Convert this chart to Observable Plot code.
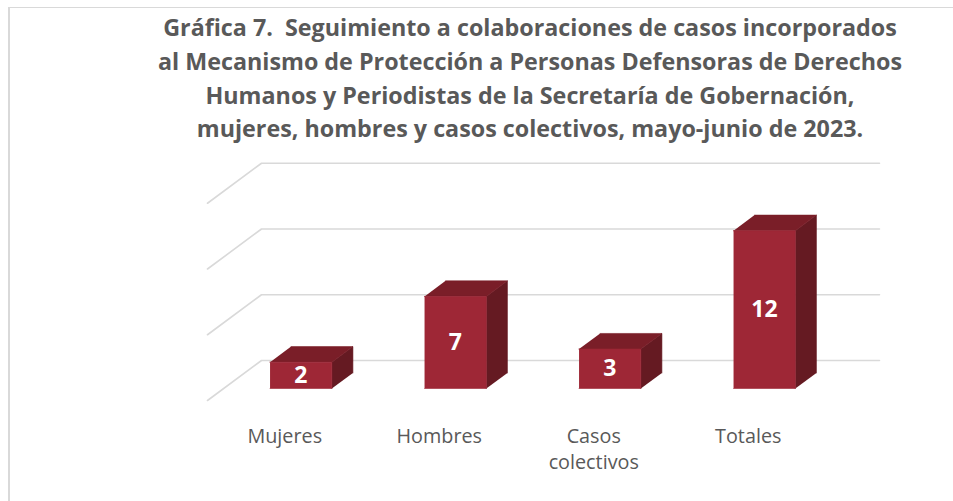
<!DOCTYPE html>
<html>
<head>
<meta charset="utf-8">
<script src="https://cdn.jsdelivr.net/npm/d3@7"></script>
<script src="https://cdn.jsdelivr.net/npm/@observablehq/plot@0.6"></script>
<style>
  html, body { margin: 0; padding: 0; background: #fff; }
  #wrap { position: relative; width: 953px; height: 501px; overflow: hidden; }
  #frame { position: absolute; left: 8px; top: 7px; right: -10px; bottom: -10px;
           border-left: 2px solid #d9d9d9; border-top: 1.5px solid #d9d9d9; pointer-events: none; }
  #title { box-sizing: border-box; height: 148px; padding: 11px 0 0 107px; width: 953px;
           font-family: "Open Sans", sans-serif; font-weight: 700; font-size: 23.3px;
           line-height: 33.8px; color: #595959; text-align: center; white-space: nowrap; }
  svg { display: block; }
</style>
</head>
<body>
<div id="wrap">
  <div id="frame"></div>
  <div id="title"></div>
  <div id="chart"></div>
</div>
<script>
// ---- data ----
const titleLines = [
  "Gráfica 7.\u00a0 Seguimiento a colaboraciones de casos incorporados",
  "al Mecanismo de Protección a Personas Defensoras de Derechos",
  "Humanos y Periodistas de la Secretaría de Gobernación,",
  "mujeres, hombres y casos colectivos, mayo-junio de 2023."
];
const categories = ["Mujeres", "Hombres", "Casos\ncolectivos", "Totales"];
const values = [2, 7, 3, 12];
const gridValues = [0, 5, 10, 15];

// ---- title ----
document.getElementById("title").innerHTML = titleLines.join("<br>");

// ---- 3D oblique projection parameters (in data units) ----
const DEPTH_X = 0.3495;   // category units for full floor depth
const DEPTH_Y = 3.042;    // value units for full floor depth
const Z0 = 0.30, Z1 = 0.69; // bar front / back depth fractions
const HALF = 0.2;          // half bar width in category units
const proj = (x, v, z) => ({x: x + z * DEPTH_X, y: v + z * DEPTH_Y});

const n = categories.length;
const idx = d3.range(n);
const frontFaces = [], topFaces = [], sideFaces = [];
idx.forEach(i => {
  const c = i + 0.5, v = values[i];
  const L = c - HALF, R = c + HALF;
  [[L,0,Z0],[R,0,Z0],[R,v,Z0],[L,v,Z0]].forEach(p => frontFaces.push({id: i, ...proj(...p)}));
  [[L,v,Z0],[R,v,Z0],[R,v,Z1],[L,v,Z1]].forEach(p => topFaces.push({id: i, ...proj(...p)}));
  [[R,0,Z0],[R,v,Z0],[R,v,Z1],[R,0,Z1]].forEach(p => sideFaces.push({id: i, ...proj(...p)}));
});
const grid = [];
gridValues.forEach(g => {
  [[0,g,0],[0,g,1],[n,g,1]].forEach(p => grid.push({g, ...proj(...p)}));
});
const valueLabels = idx.map(i => ({text: String(values[i]), ...proj(i + 0.5, values[i] / 2, Z0)}));
const catLabels = idx.map(i => ({text: categories[i], x: i + 0.5, y: 0}));

const chart = Plot.plot({
  width: 953,
  height: 353,
  margin: 0,
  x: {type: "linear", domain: [0, n], range: [207, 825], axis: null},
  y: {type: "linear", domain: [0, 18], range: [252, 252 - 18 * 13.15], axis: null},
  marks: [
    Plot.line(grid, {x: "x", y: "y", z: "g", stroke: "#d9d9d9", strokeWidth: 1.6}),
    Plot.line(sideFaces, {x: "x", y: "y", z: "id", fill: "#651a22", stroke: "#651a22", strokeWidth: 0.6}),
    Plot.line(topFaces, {x: "x", y: "y", z: "id", fill: "#7a1e28", stroke: "#7a1e28", strokeWidth: 0.6}),
    Plot.line(frontFaces, {x: "x", y: "y", z: "id", fill: "#9e2736", stroke: "#9e2736", strokeWidth: 0.6}),
    Plot.text(valueLabels, {x: "x", y: "y", text: "text", fill: "white", fontSize: 23, fontWeight: 700,
      fontFamily: "'Open Sans', sans-serif", lineAnchor: "middle"}),
    Plot.text(catLabels, {x: "x", y: "y", text: "text", fill: "#595959", fontSize: 19.8,
      fontFamily: "'Open Sans', sans-serif", lineAnchor: "top", lineHeight: 1.32, dy: 24})
  ]
});
document.getElementById("chart").appendChild(chart);
</script>
</body>
</html>
